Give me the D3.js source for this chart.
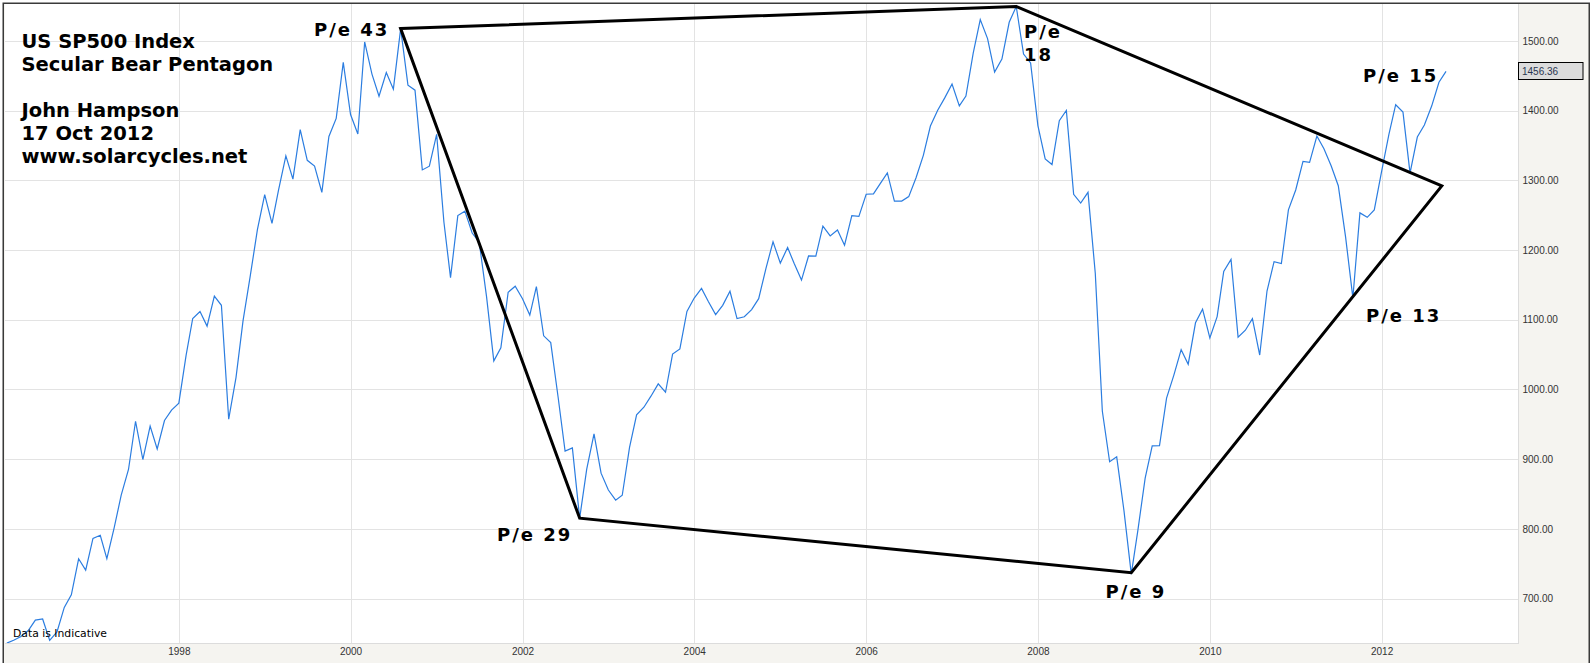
<!DOCTYPE html>
<html>
<head>
<meta charset="utf-8">
<script src="https://cdnjs.cloudflare.com/ajax/libs/d3/7.8.5/d3.min.js"></script>
<style>
  body { margin: 0; background: #fff; }
  .ax text { font-family: "Liberation Sans", Arial, sans-serif; font-size: 10px; fill: #333; }
  .note { font-family: "DejaVu Sans", Verdana, sans-serif; font-weight: bold; fill: #000; }
</style>
</head>
<body>
<div id="chart"></div>
<script>
// monthly S&P 500 values as drawn, Jan 1996 .. Oct 2012 (one value per month)
const firstMonth = "1996-01";
const monthlyClose = [
  636.02, 640.43, 645.50, 654.17, 669.12, 670.63, 639.95, 651.99, 687.33, 705.27, 757.02, 740.74,
  786.16, 790.82, 757.12, 801.34, 848.28, 885.14, 954.31, 899.47, 947.28, 914.62, 955.40, 970.43,
  980.28, 1049.34, 1101.75, 1111.75, 1090.82, 1133.84, 1120.67, 957.28, 1017.01, 1098.67, 1163.63, 1229.23,
  1279.64, 1238.33, 1286.37, 1335.18, 1301.84, 1372.71, 1328.72, 1320.41, 1282.71, 1362.93, 1388.91, 1469.25,
  1394.46, 1366.42, 1498.58, 1452.43, 1420.60, 1454.60, 1430.83, 1517.68, 1436.51, 1429.40, 1314.95, 1320.28,
  1366.01, 1239.94, 1160.33, 1249.46, 1255.82, 1224.42, 1211.23, 1133.58, 1040.94, 1059.78, 1139.45, 1148.08,
  1130.20, 1106.73, 1147.39, 1076.92, 1067.14, 989.82, 911.62, 916.07, 815.28, 885.76, 936.31, 879.82,
  855.70, 841.15, 848.18, 916.92, 963.59, 974.50, 990.31, 1008.01, 995.97, 1050.71, 1058.20, 1111.92,
  1131.13, 1144.94, 1126.21, 1107.30, 1120.68, 1140.84, 1101.72, 1104.24, 1114.58, 1130.20, 1173.82, 1211.92,
  1181.27, 1203.60, 1180.59, 1156.85, 1191.50, 1191.33, 1234.18, 1220.33, 1228.81, 1207.01, 1249.48, 1248.29,
  1280.08, 1280.66, 1294.83, 1310.61, 1270.09, 1270.20, 1276.66, 1303.82, 1335.85, 1377.94, 1400.63, 1418.30,
  1438.24, 1406.82, 1420.86, 1482.37, 1530.62, 1503.35, 1455.27, 1473.99, 1526.75, 1549.38, 1481.14, 1468.36,
  1378.55, 1330.63, 1322.70, 1385.59, 1400.38, 1280.00, 1267.38, 1282.83, 1166.36, 968.75, 896.24, 903.25,
  825.88, 735.09, 797.87, 872.81, 919.14, 919.32, 987.48, 1020.62, 1057.08, 1036.19, 1095.63, 1115.10,
  1073.87, 1104.49, 1169.43, 1186.69, 1075.00, 1085.00, 1101.60, 1049.33, 1141.20, 1183.26, 1180.55, 1257.64,
  1286.12, 1327.22, 1325.83, 1363.61, 1345.20, 1320.64, 1292.28, 1218.89, 1131.42, 1253.30, 1246.96, 1257.60,
  1312.41, 1365.68, 1408.47, 1397.91, 1310.33, 1362.16, 1379.32, 1406.58, 1440.67, 1456.36
];
const lastValue = 1456.36;

// hand drawn pentagon corners
const pentagonDates = ["2000-08-01", "2007-10-01", "2012-09-13", "2009-02-01", "2002-09-01"];
const pentagonValues = [1517.68, 1549.38, 1292, 737, 815.28];

const yTicks = [700, 800, 900, 1000, 1100, 1200, 1300, 1400, 1500];
const xTickYears = [1998, 2000, 2002, 2004, 2006, 2008, 2010, 2012];
const yDomain = [636.2, 1553];
const xDomain = ["1995-12-24", "2013-08-03"];

const titleLines = ["US SP500 Index", "Secular Bear Pentagon", "", "John Hampson", "17 Oct 2012", "www.solarcycles.net"];

// layout
const W = 1593, H = 663;
const plot = {left: 5, top: 4, right: 1518, bottom: 643};
const parseDay = d3.timeParse("%Y-%m-%d");
const start = d3.timeParse("%Y-%m")(firstMonth);

const series = monthlyClose.map((v, i) => ({date: d3.timeMonth.offset(start, i), v: v}));
const corners = pentagonDates.map((d, i) => ({date: parseDay(d), v: pentagonValues[i]}));

const x = d3.scaleTime()
  .domain(xDomain.map(parseDay))
  .range([plot.left, plot.right]);
const y = d3.scaleLinear()
  .domain(yDomain)
  .range([plot.bottom, plot.top]);

const svg = d3.select("#chart").append("svg")
  .attr("width", W)
  .attr("height", H);

// frame + panels
svg.append("rect")
  .attr("x", 3.25).attr("y", 3.25)
  .attr("width", 1586).attr("height", H + 5)
  .attr("fill", "#f5f4f0")
  .attr("stroke", "#3a3a3a")
  .attr("stroke-width", 1.5);
svg.append("rect")
  .attr("x", plot.left).attr("y", plot.top)
  .attr("width", plot.right - plot.left).attr("height", plot.bottom - plot.top)
  .attr("fill", "#fff");

svg.append("clipPath").attr("id", "clip")
  .append("rect")
  .attr("x", plot.left).attr("y", plot.top)
  .attr("width", plot.right - plot.left).attr("height", plot.bottom - plot.top);

// grid
const grid = svg.append("g").attr("stroke", "#e3e3e3").attr("stroke-width", 1);
grid.selectAll(".gy").data(yTicks).enter().append("line")
  .attr("x1", plot.left).attr("x2", plot.right)
  .attr("y1", d => Math.round(y(d)) + 0.5)
  .attr("y2", d => Math.round(y(d)) + 0.5);
grid.selectAll(".gx").data(xTickYears).enter().append("line")
  .attr("y1", plot.top).attr("y2", plot.bottom)
  .attr("x1", d => Math.round(x(new Date(d, 0, 1))) + 0.5)
  .attr("x2", d => Math.round(x(new Date(d, 0, 1))) + 0.5);

// panel edges
svg.append("line")
  .attr("x1", plot.right + 0.5).attr("x2", plot.right + 0.5)
  .attr("y1", plot.top).attr("y2", plot.bottom + 1)
  .attr("stroke", "#dcdcdc");
svg.append("line")
  .attr("x1", plot.left).attr("x2", plot.right)
  .attr("y1", plot.bottom + 0.5).attr("y2", plot.bottom + 0.5)
  .attr("stroke", "#dcdcdc");

// price line
const line = d3.line()
  .x(d => x(d.date))
  .y(d => y(d.v));
svg.append("path")
  .datum(series)
  .attr("clip-path", "url(#clip)")
  .attr("d", line)
  .attr("fill", "none")
  .attr("stroke", "#2b7de0")
  .attr("stroke-width", 1.2);

// pentagon
svg.append("path")
  .datum(corners)
  .attr("d", line.curve(d3.curveLinearClosed))
  .attr("fill", "none")
  .attr("stroke", "#000")
  .attr("stroke-width", 3)
  .attr("stroke-linejoin", "miter");

// axes
const axR = svg.append("g")
  .attr("class", "ax")
  .attr("transform", "translate(" + plot.right + ",0)")
  .call(d3.axisRight(y).tickValues(yTicks).tickFormat(d3.format(".2f")).tickSize(0).tickPadding(4.5));
axR.select(".domain").remove();

const axB = svg.append("g")
  .attr("class", "ax")
  .attr("transform", "translate(0," + plot.bottom + ")")
  .call(d3.axisBottom(x)
    .tickValues(xTickYears.map(yr => new Date(yr, 0, 1)))
    .tickFormat(d3.timeFormat("%Y"))
    .tickSize(0).tickPadding(4.5));
axB.select(".domain").remove();

// last value box
const ly = y(lastValue);
svg.append("rect")
  .attr("x", plot.right + 0.5).attr("y", Math.round(ly) - 8.5)
  .attr("width", 64.5).attr("height", 17)
  .attr("fill", "#dcdcdc")
  .attr("stroke", "#000");
svg.append("text")
  .attr("x", plot.right + 4).attr("y", ly)
  .attr("dy", "0.35em")
  .style("font-family", "Liberation Sans, Arial, sans-serif")
  .style("font-size", "10px")
  .attr("fill", "#2a3550")
  .text(d3.format(".2f")(lastValue));

// notes
svg.append("text")
  .attr("x", 13).attr("y", 637)
  .style("font-family", "DejaVu Sans, Verdana, sans-serif")
  .style("font-size", "10.8px")
  .attr("fill", "#000")
  .text("Data is Indicative");

const title = svg.append("text")
  .attr("class", "note")
  .style("font-size", "19.5px");
titleLines.forEach((t, i) => {
  title.append("tspan")
    .attr("x", 21.5)
    .attr("y", 47.7 + i * 23)
    .text(t);
});

const peLabels = [
  ["P/e 43", 314, 36],
  ["P/e", 1024, 37.7],
  ["18", 1024, 61],
  ["P/e 29", 497, 541],
  ["P/e 9", 1105.5, 597.7],
  ["P/e 15", 1363, 82.3],
  ["P/e 13", 1366, 321.7]
];
svg.selectAll(".pe").data(peLabels).enter().append("text")
  .attr("class", "note")
  .attr("x", d => d[1])
  .attr("y", d => d[2])
  .style("font-size", "18px")
  .style("letter-spacing", "2px")
  .text(d => d[0]);
</script>
</body>
</html>
